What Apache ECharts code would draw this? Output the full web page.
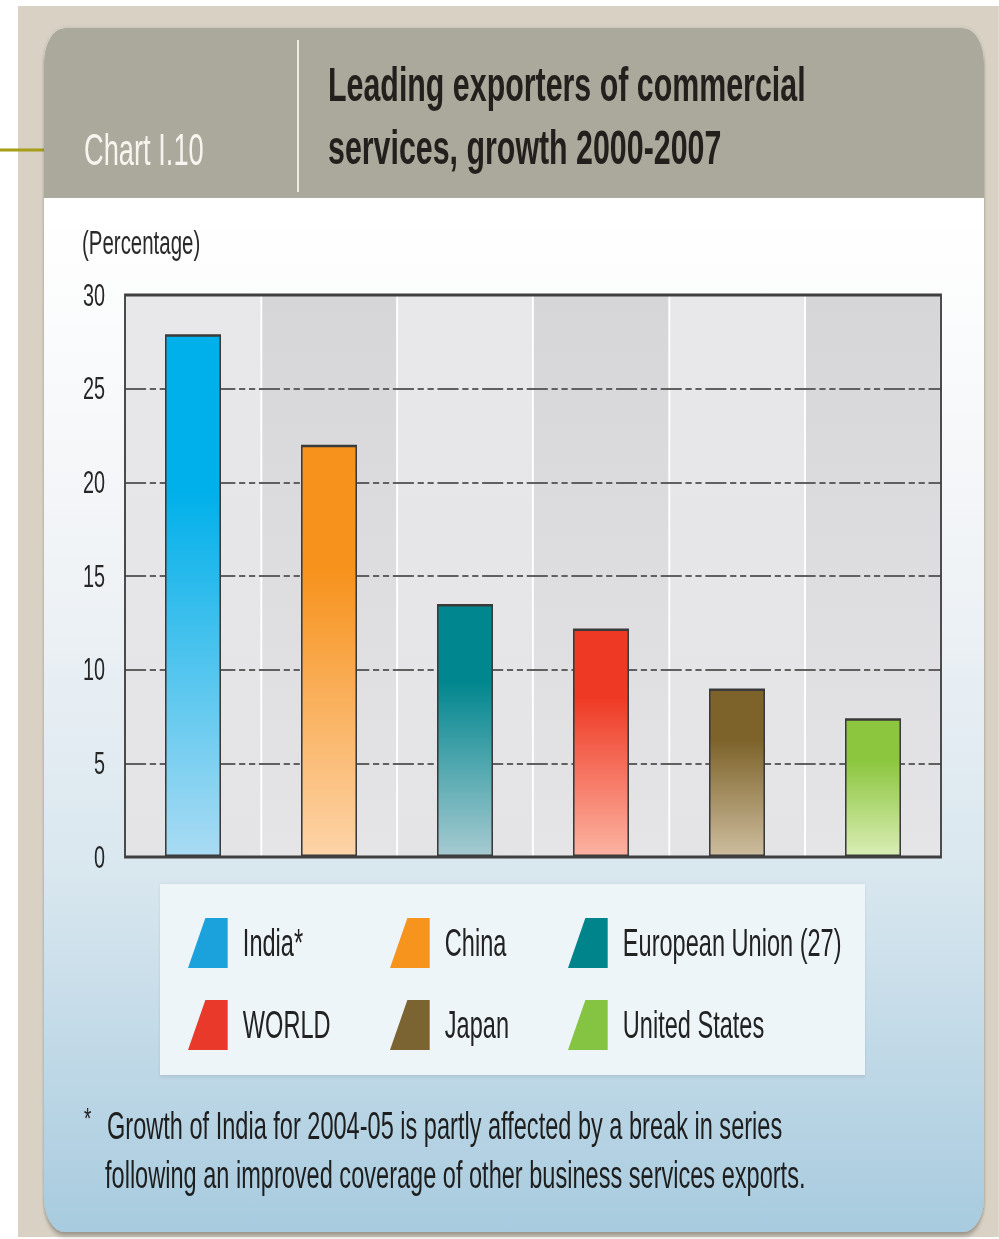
<!DOCTYPE html>
<html>
<head>
<meta charset="utf-8">
<title>Leading exporters of commercial services, growth 2000-2007</title>
<script src="https://cdn.jsdelivr.net/npm/echarts@6/dist/echarts.min.js"></script>
<style>
  html, body { margin: 0; padding: 0; background: #ffffff; overflow: hidden; width: 999px; height: 1239px; }
  #chart { position: absolute; left: 0; top: 0; height: 1239px; transform-origin: 0 0; }
</style>
</head>
<body>
<div id="chart"></div>
<script>
// ---- data ----
const categories = ['India*', 'China', 'European Union (27)', 'WORLD', 'Japan', 'United States'];
const growth = [27.9, 22.0, 13.5, 12.2, 9.0, 7.4];          // % growth 2000-2007
const yMin = 0, yMax = 30, yStep = 5;
const legendColumns = [['India*', 'WORLD'], ['China', 'Japan'], ['European Union (27)', 'United States']];

// ---- colours ----
const barTop    = ['#00b0ea', '#f7921c', '#00868e', '#ee3a24', '#7d6229', '#8cc63e'];
const barBottom = ['#a9dbf3', '#fdd4a8', '#a6cad1', '#fcb3a2', '#cdbd9e', '#d9edb5'];
const swatch    = ['#1ba2dd', '#f7941e', '#00848b', '#e8392b', '#7b6431', '#85c442'];

// The whole figure is set in a narrow, condensed style: the drawing is laid out
// on a wider canvas and squeezed horizontally by this factor.
const S = 0.62;
const X = v => v / S;
const FONT = '"Liberation Sans", Arial, sans-serif';

const el = document.getElementById('chart');
el.style.width = (999 / S) + 'px';
el.style.transform = 'scaleX(' + S + ')';

function vgrad(stops) {
  return { type: 'linear', x: 0, y: 0, x2: 0, y2: 1,
           colorStops: stops.map(s => ({ offset: s[0], color: s[1] })) };
}

const series = categories.map((name, i) => ({
  name: name,
  type: 'bar',
  stack: 'growth',
  barWidth: X(56),
  z: 4,
  data: growth.map((v, j) => (j === i ? v : '-')),
  itemStyle: {
    color: vgrad([[0, barTop[i]], [0.3, barTop[i]], [1, barBottom[i]]]),
    borderColor: '#3a3a3a',
    borderWidth: 2.5
  },
  emphasis: { disabled: true }
}));

const colLeft = [188, 390, 568];
const legends = legendColumns.map((names, c) => ({
  orient: 'vertical',
  left: X(colLeft[c]),
  top: 918,
  padding: 0,
  itemWidth: X(40),
  itemHeight: 50,
  itemGap: 32,
  selectedMode: false,
  icon: 'path://M28,0L64,0L64,50L0,50Z',
  itemStyle: { borderWidth: 0 },
  textStyle: { fontFamily: FONT, fontSize: 38, color: '#222', padding: [0, 0, 0, X(15) - 5] },
  data: names.map(n => ({ name: n, itemStyle: { color: swatch[categories.indexOf(n)], borderWidth: 0 } }))
}));

function txt(x, y, text, font, fill, extra) {
  return Object.assign({
    type: 'text', x: X(x), y: y, z: 5, silent: true,
    style: { text: text, font: font, fill: fill, textAlign: 'left', textVerticalAlign: 'middle' }
  }, extra || {});
}

const graphic = [
  // page frame
  { type: 'rect', z: -20, silent: true, shape: { x: X(18), y: 6, width: X(981), height: 1231 },
    style: { fill: '#d8d1c4' } },
  { type: 'line', z: -19, silent: true, shape: { x1: 0, y1: 150, x2: X(46), y2: 150 },
    style: { stroke: '#a69e16', lineWidth: 3 } },
  // panel body
  { type: 'rect', z: -18, silent: true, shape: { x: X(44), y: 28, width: X(940), height: 1204, r: 34 },
    style: { fill: vgrad([[0, '#ffffff'], [0.16, '#ffffff'], [0.45, '#f0f3f6'], [0.7, '#d9e7ef'], [1, '#a8cbdf']]),
             shadowBlur: 6, shadowOffsetY: 3, shadowColor: 'rgba(0,0,0,0.35)' } },
  // header band
  { type: 'rect', z: -17, silent: true, shape: { x: X(44), y: 28, width: X(940), height: 170, r: [34, 34, 0, 0] },
    style: { fill: '#aba99c' } },
  { type: 'line', z: -16, silent: true, shape: { x1: X(298), y1: 40, x2: X(298), y2: 192 },
    style: { stroke: '#f3f1ea', lineWidth: 3 } },
  // legend box
  { type: 'rect', z: -15, silent: true, shape: { x: X(160), y: 884, width: X(705), height: 191 },
    style: { fill: '#eef5f9', shadowBlur: 4, shadowOffsetY: 1, shadowColor: 'rgba(0,0,0,0.12)' } },
  // header texts
  txt(84, 150, 'Chart I.10', '44px ' + FONT, '#f6f5ef'),
  txt(328, 84, 'Leading exporters of commercial', 'bold 49px ' + FONT, '#231f1c'),
  txt(328, 147, 'services, growth 2000-2007', 'bold 49px ' + FONT, '#231f1c'),
  // axis unit
  txt(82, 243, '(Percentage)', '33px ' + FONT, '#2a2a2a'),
  // footnote
  txt(84, 1117, '*', '30px ' + FONT, '#222'),
  txt(107, 1126, 'Growth of India for 2004-05 is partly affected by a break in series', '38px ' + FONT, '#1e1e1e'),
  txt(105, 1175, 'following an improved coverage of other business services exports.', '38px ' + FONT, '#1e1e1e')
];

const chart = echarts.init(el, null, { renderer: 'svg' });
chart.setOption({
  animation: false,
  backgroundColor: '#ffffff',
  textStyle: { fontFamily: FONT },
  graphic: graphic,
  legend: legends,
  grid: {
    show: true, z: 5,
    left: X(125), width: X(816), top: 295, height: 562,
    borderColor: '#3f3f3f', borderWidth: 3,
    backgroundColor: 'rgba(0,0,0,0)'
  },
  xAxis: {
    type: 'category',
    z: 0,
    data: categories,
    axisLine: { show: false },
    axisTick: { show: false },
    axisLabel: { show: false },
    splitLine: { show: true, lineStyle: { color: '#ffffff', width: 3 } },
    splitArea: {
      show: true,
      areaStyle: { color: [
        vgrad([[0, '#e8e8ea'], [1, '#e4e4e6']]),
        vgrad([[0, '#d6d6d8'], [1, '#e5e5e7']])
      ] }
    }
  },
  yAxis: {
    type: 'value',
    z: 1,
    min: yMin, max: yMax, interval: yStep,
    axisLine: { show: false },
    axisTick: { show: false },
    axisLabel: { fontSize: 32, color: '#262626', margin: X(20), fontFamily: FONT },
    splitLine: { show: true, lineStyle: { color: '#606060', width: 2, type: [34, 6, 10, 6, 10, 6] } }
  },
  series: series
});
</script>
</body>
</html>
